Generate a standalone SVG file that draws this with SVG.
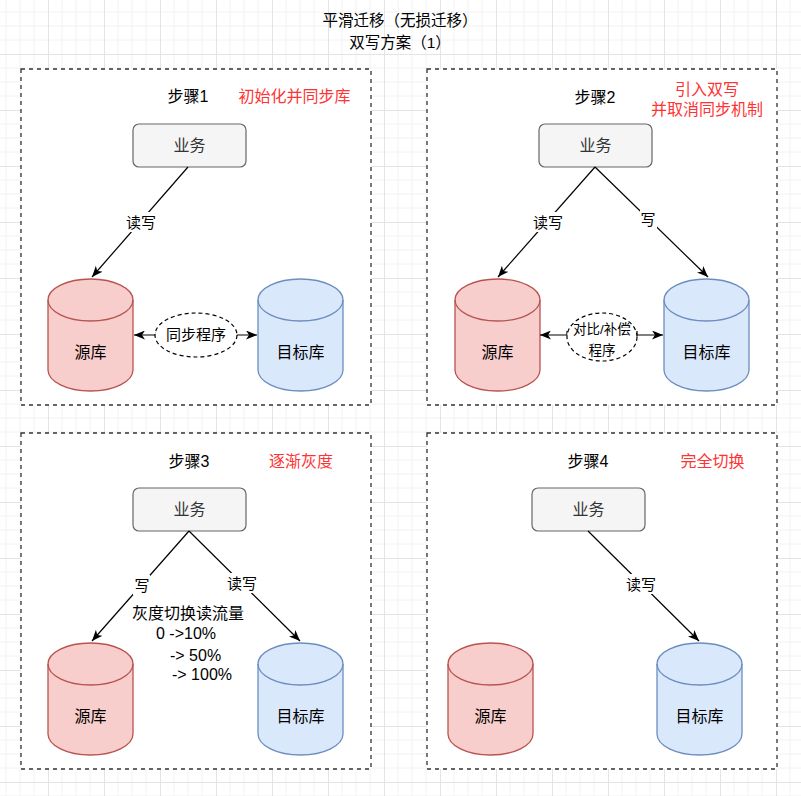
<svg xmlns="http://www.w3.org/2000/svg" width="801" height="796" viewBox="0 0 801 796">
<style>
text{font-family:"Liberation Sans","Noto Sans CJK SC",sans-serif;dominant-baseline:central;text-anchor:middle;fill:#000}
.box{fill:#fff;stroke:#333;stroke-width:1.3;stroke-dasharray:4 4}
.biz rect{fill:#f5f5f5;stroke:#666;stroke-width:1.2}
.biz text{fill:#333;font-size:16px}
.src use{fill:#f8cecc;stroke:#b85450;stroke-width:1.3}
.dst use{fill:#dae8fc;stroke:#6c8ebf;stroke-width:1.3}
.db text{font-size:16px}
.step{font-size:16px}
.red{fill:#ff3333;font-size:16px}
.edge{stroke:#000;stroke-width:1.2;fill:none;marker-end:url(#arr)}
.lbl{font-size:15px}
.lblbg{fill:#fff}
.prog ellipse{fill:#fff;stroke:#000;stroke-width:1.2;stroke-dasharray:4 3}
</style>
<defs>
<pattern id="grid" patternUnits="userSpaceOnUse" x="48" y="54" width="56" height="56">
<path d="M14,0V56M28,0V56M42,0V56M0,14H56M0,28H56M0,42H56" stroke="#f2f2f2" stroke-width="1" fill="none"/>
<path d="M0.5,0V56M0,0.5H56" stroke="#e4e4e4" stroke-width="1" fill="none"/>
</pattern>
<marker id="arr" markerUnits="userSpaceOnUse" markerWidth="12" markerHeight="9" refX="11" refY="4.5" orient="auto">
<path d="M0,0 L11,4.5 L0,9 L3,4.5 Z" fill="#000"/>
</marker>
<g id="cyl">
<path d="M0,21 A42.5,21 0 0 1 85,21 L85,91 A42.5,21 0 0 1 0,91 Z"/>
<path d="M0,21 A42.5,21 0 0 0 85,21" fill="none"/>
</g>
</defs>
<rect width="801" height="796" fill="#fff"/>
<rect width="801" height="796" fill="url(#grid)"/>

<g id="title">
<text x="400" y="20" style="font-size:15.5px">平滑迁移（无损迁移）</text>
<text x="400" y="42" style="font-size:15.5px">双写方案（1）</text>
</g>

<g id="frames">
<rect class="box" x="21" y="69" width="350" height="336"/>
<rect class="box" x="427" y="69" width="350" height="336"/>
<rect class="box" x="21" y="433" width="350" height="336"/>
<rect class="box" x="427" y="433" width="350" height="336"/>
</g>

<g id="labels">
<text class="step" x="188" y="96">步骤1</text>
<text class="red" x="294.5" y="96">初始化并同步库</text>
<text class="step" x="595" y="97">步骤2</text>
<text class="red" x="707" y="89">引入双写</text>
<text class="red" x="707" y="109">并取消同步机制</text>
<text class="step" x="189" y="461">步骤3</text>
<text class="red" x="301" y="461">逐渐灰度</text>
<text class="step" x="588" y="461">步骤4</text>
<text class="red" x="712.5" y="461">完全切换</text>
</g>

<g id="biz1" class="biz"><rect x="133" y="124" width="113" height="43" rx="6"/><text x="189.5" y="145.5">业务</text></g>
<g id="biz2" class="biz"><rect x="539" y="124" width="113" height="43" rx="6"/><text x="595.5" y="145.5">业务</text></g>
<g id="biz3" class="biz"><rect x="133" y="488" width="113" height="43" rx="6"/><text x="189.5" y="509.5">业务</text></g>
<g id="biz4" class="biz"><rect x="532" y="488" width="113" height="43" rx="6"/><text x="588.5" y="509.5">业务</text></g>

<g id="src1" class="db src"><use href="#cyl" x="48" y="279"/><text x="90.5" y="352">源库</text></g>
<g id="dst1" class="db dst"><use href="#cyl" x="258" y="279"/><text x="300.5" y="352">目标库</text></g>
<g id="src2" class="db src"><use href="#cyl" x="455" y="279"/><text x="497.5" y="352">源库</text></g>
<g id="dst2" class="db dst"><use href="#cyl" x="664" y="279"/><text x="706.5" y="352">目标库</text></g>
<g id="src3" class="db src"><use href="#cyl" x="48" y="643"/><text x="90.5" y="716">源库</text></g>
<g id="dst3" class="db dst"><use href="#cyl" x="258" y="643"/><text x="300.5" y="716">目标库</text></g>
<g id="src4" class="db src"><use href="#cyl" x="448" y="643"/><text x="490.5" y="716">源库</text></g>
<g id="dst4" class="db dst"><use href="#cyl" x="657" y="643"/><text x="699.5" y="716">目标库</text></g>

<g id="connectors">
<line class="edge" x1="188" y1="167" x2="92" y2="277"/>
<line class="edge" x1="595" y1="167" x2="498" y2="277"/>
<line class="edge" x1="595" y1="167" x2="708" y2="277"/>
<line class="edge" x1="189" y1="531" x2="92" y2="641"/>
<line class="edge" x1="189" y1="531" x2="300" y2="641"/>
<line class="edge" x1="588" y1="531" x2="699" y2="641"/>
<polyline class="edge" points="156,332 156,335 134,335"/>
<polyline class="edge" points="236,332 236,335 257,335"/>
<polyline class="edge" points="567,331 567,335 540,335"/>
<polyline class="edge" points="637,331 637,335 663,335"/>
</g>

<g id="edge-labels">
<rect class="lblbg" x="125" y="212" width="32" height="20"/><text class="lbl" x="141" y="222">读写</text>
<rect class="lblbg" x="532" y="212" width="32" height="20"/><text class="lbl" x="548" y="222">读写</text>
<rect class="lblbg" x="640" y="209" width="17" height="20"/><text class="lbl" x="648" y="219">写</text>
<rect class="lblbg" x="133" y="575" width="17" height="20"/><text class="lbl" x="142" y="585">写</text>
<rect class="lblbg" x="226" y="573" width="32" height="20"/><text class="lbl" x="242" y="583">读写</text>
<rect class="lblbg" x="625" y="574" width="32" height="20"/><text class="lbl" x="641" y="584">读写</text>
</g>

<g id="prog1" class="prog"><ellipse cx="196" cy="335" rx="41" ry="22"/><text x="196" y="334" style="font-size:15px">同步程序</text></g>
<g id="prog2" class="prog"><ellipse cx="602" cy="337" rx="35" ry="24"/><text x="602" y="329" style="font-size:13.5px">对比/补偿</text><text x="602" y="350" style="font-size:13.5px">程序</text></g>

<g id="note">
<text x="132" y="613" style="font-size:16px;text-anchor:start">灰度切换读流量</text>
<text x="156" y="633" style="font-size:16px;text-anchor:start">0 -&gt;10%</text>
<text x="170" y="655" style="font-size:16px;text-anchor:start">-&gt; 50%</text>
<text x="172" y="674" style="font-size:16px;text-anchor:start">-&gt; 100%</text>
</g>
</svg>
